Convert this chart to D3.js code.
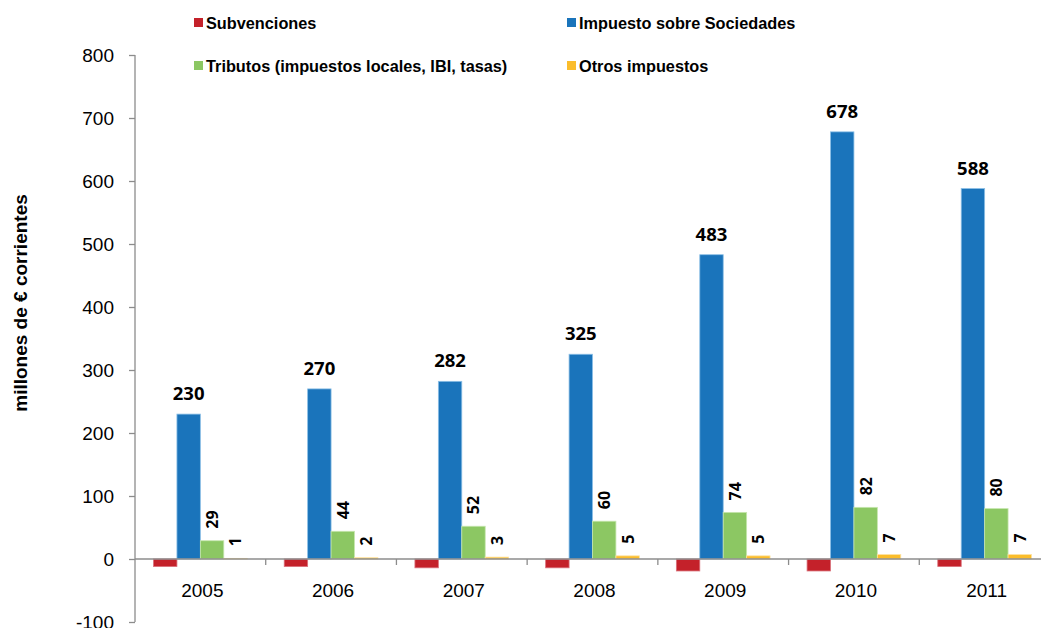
<!DOCTYPE html>
<html>
<head>
<meta charset="utf-8">
<script src="https://cdn.jsdelivr.net/npm/d3@7/dist/d3.min.js"></script>
<style>
  html, body { margin: 0; padding: 0; background: #fff; }
  svg { display: block; }
  .axis text { font-family: "Liberation Sans", Arial, sans-serif; font-size: 19px; fill: #000; }
  .axis path, .axis line { stroke: #8c8c8c; stroke-width: 1.3; }
</style>
</head>
<body>
<svg id="chart" width="1041" height="628"></svg>
<script>
// Years on the category axis
const years = ["2005", "2006", "2007", "2008", "2009", "2010", "2011"];

// Series (millones de € corrientes)
const subvenciones = [-12, -12, -14, -14, -19, -19, -12];
const impuestoSociedades = [230, 270, 282, 325, 483, 678, 588];
const tributos = [29, 44, 52, 60, 74, 82, 80];
const otrosImpuestos = [1, 2, 3, 5, 5, 7, 7];

const seriesNames = [
  "Subvenciones",
  "Impuesto sobre Sociedades",
  "Tributos (impuestos locales, IBI, tasas)",
  "Otros impuestos"
];
const seriesColors = ["#c4212a", "#1a74bb", "#8cc763", "#fbbd2b"];
const seriesEdge = ["#d9707a", "#8bbfe6", "#c6e6ae", "#fde2a0"];

const yTicks = [-100, 0, 100, 200, 300, 400, 500, 600, 700, 800];

const seriesValues = [subvenciones, impuestoSociedades, tributos, otrosImpuestos];

const svg = d3.select("#chart");

const y = d3.scaleLinear().domain([-100, 800]).range([622, 55]);
const x0 = d3.scaleBand().domain(years).range([135, 1050]).padding(0);
const x1 = d3.scaleBand().domain(d3.range(4)).range([0, x0.bandwidth()])
  .paddingInner(0).paddingOuter(0.79);

// Bars
const groups = svg.append("g").selectAll("g")
  .data(years)
  .join("g")
  .attr("transform", d => `translate(${x0(d)},0)`);

groups.selectAll("rect")
  .data((d, i) => seriesValues.map((s, k) => ({ k, v: s[i] })))
  .join("rect")
  .attr("x", d => x1(d.k))
  .attr("width", x1.bandwidth())
  .attr("y", d => y(Math.max(0, d.v)))
  .attr("height", d => Math.abs(y(d.v) - y(0)))
  .attr("fill", d => seriesColors[d.k])
  .attr("stroke", d => seriesEdge[d.k])
  .attr("stroke-width", 0.8);

// Y axis
const yAxis = svg.append("g")
  .attr("class", "axis")
  .attr("transform", "translate(135,0)")
  .call(d3.axisLeft(y).tickValues(yTicks).tickSize(6).tickSizeOuter(0).tickPadding(15).tickFormat(d => String(d)));
yAxis.select(".domain").attr("d", `M0,${y(800)}V${y(-100)}`);

// X axis along zero, with ticks at category boundaries
const xAxisG = svg.append("g").attr("class", "axis");
xAxisG.append("line")
  .attr("x1", 135).attr("x2", 1041)
  .attr("y1", y(0)).attr("y2", y(0));
xAxisG.selectAll("line.tick")
  .data(years)
  .join("line")
  .attr("class", "tick")
  .attr("x1", d => x0(d) + x0.step())
  .attr("x2", d => x0(d) + x0.step())
  .attr("y1", y(0)).attr("y2", y(0) + 6);
xAxisG.selectAll("text")
  .data(years)
  .join("text")
  .attr("x", d => x0(d) + x0.bandwidth() / 2 + 2)
  .attr("y", 597)
  .attr("text-anchor", "middle")
  .text(d => d);

// Value labels: Impuesto sobre Sociedades
groups.append("text")
  .attr("x", x1(1) + x1.bandwidth() / 2)
  .attr("y", (d, i) => y(impuestoSociedades[i]) - 14)
  .attr("text-anchor", "middle")
  .style("font-family", "'Open Sans', sans-serif")
  .style("font-weight", "bold")
  .style("font-size", "18.5px")
  .text((d, i) => impuestoSociedades[i]);

// Rotated labels for Tributos and Otros impuestos
[[2, tributos], [3, otrosImpuestos]].forEach(([k, vals]) => {
  groups.append("text")
    .attr("transform", (d, i) => {
      const cx = x1(k) + x1.bandwidth() / 2;
      const ty = y(vals[i]) - 12;
      return `translate(${cx},${ty}) rotate(-90)`;
    })
    .attr("text-anchor", "start")
    .attr("dominant-baseline", "central")
    .style("font-family", "'Open Sans', sans-serif")
    .style("font-weight", "bold")
    .style("font-size", "16px")
    .text((d, i) => vals[i]);
});

// Y axis title
svg.append("text")
  .attr("transform", "translate(27,303) rotate(-90)")
  .attr("text-anchor", "middle")
  .style("font-family", "'Liberation Sans', Arial, sans-serif")
  .style("font-weight", "bold")
  .style("font-size", "19px")
  .text("millones de € corrientes");

// Legend (two columns, two rows)
const legendPos = [[194, 18], [567, 18], [194, 61], [567, 61]];
const legend = svg.append("g").selectAll("g")
  .data(seriesNames)
  .join("g")
  .attr("transform", (d, i) => `translate(${legendPos[i][0]},${legendPos[i][1]})`);
legend.append("rect")
  .attr("width", 9).attr("height", 9)
  .attr("fill", (d, i) => seriesColors[i]);
legend.append("text")
  .attr("x", 12).attr("y", 10.5)
  .style("font-family", "'Liberation Sans', Arial, sans-serif")
  .style("font-weight", "bold")
  .style("font-size", "16.3px")
  .text(d => d);
</script>
</body>
</html>
